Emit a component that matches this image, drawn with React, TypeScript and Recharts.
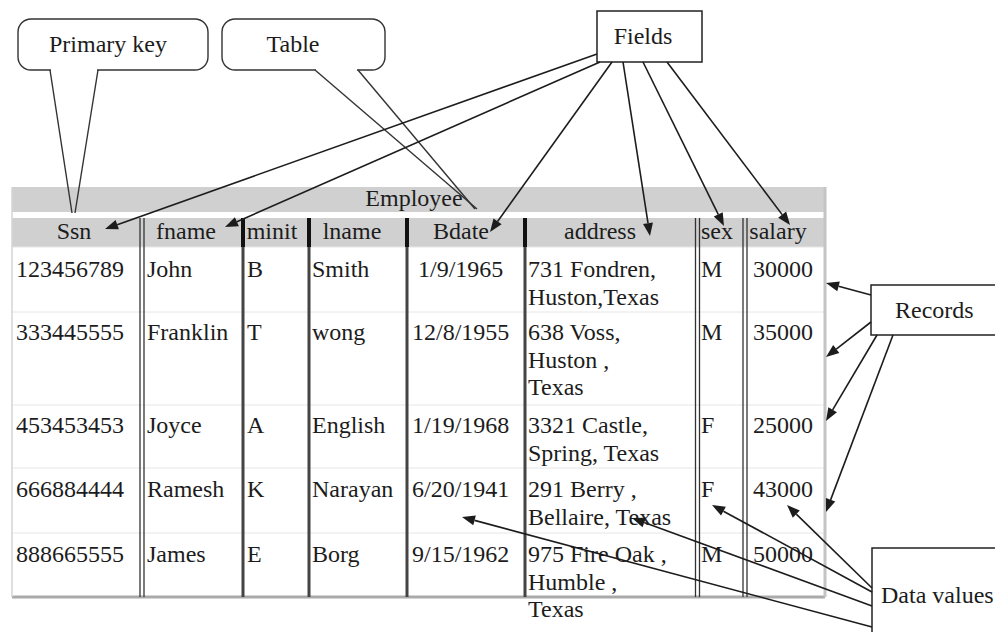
import { ComposedChart, ReferenceArea, ReferenceLine, Scatter, XAxis, YAxis } from 'recharts'

// table content
const columns = ['Ssn', 'fname', 'minit', 'lname', 'Bdate', 'address', 'sex', 'salary']
const ssn = ['123456789', '333445555', '453453453', '666884444', '888665555']
const fname = ['John', 'Franklin', 'Joyce', 'Ramesh', 'James']
const minit = ['B', 'T', 'A', 'K', 'E']
const lname = ['Smith', 'wong', 'English', 'Narayan', 'Borg']
const bdate = ['\u00a01/9/1965', '12/8/1955', '1/19/1968', '6/20/1941', '9/15/1962']
const address = [
  ['731 Fondren,', 'Huston,Texas'],
  ['638 Voss,', 'Huston ,', 'Texas'],
  ['3321 Castle,', 'Spring, Texas'],
  ['291 Berry ,', 'Bellaire, Texas'],
  ['975 Fire Oak ,', 'Humble ,', 'Texas'],
]
const sex = ['M', 'M', 'F', 'F', 'M']
const salary = ['30000', '35000', '25000', '43000', '50000']
const tableName = 'Employee'
const calloutLabels = ['Primary key', 'Table', 'Fields', 'Records', 'Data values']

// layout in diagram units (x: 0..995, y: 0..632 from the top)
const colTextX = [16, 147, 247, 312, 412, 528, 701, 753]
const headerTextX = [74, 186, 272, 352, 461, 600, 717, 778]
const rowBaseY = [277, 340, 433, 497, 562]
const lineGap = 27.5
const rowEdges = [247, 312, 405, 468, 533, 597]
const separators = [
  { x: 142, kind: 'double' },
  { x: 243, kind: 'thick' },
  { x: 309, kind: 'thick' },
  { x: 407, kind: 'thick' },
  { x: 525, kind: 'thick' },
  { x: 697.5, kind: 'double' },
  { x: 745, kind: 'double' },
]
const calloutPos = [
  { x: 108, y: 52, anchor: 'middle' },
  { x: 293, y: 52, anchor: 'middle' },
  { x: 643, y: 44, anchor: 'middle' },
  { x: 895, y: 318, anchor: 'start' },
  { x: 881, y: 603, anchor: 'start' },
]
const boxes = [
  { x1: 597, x2: 702, y1: 11, y2: 62 },
  { x1: 871, x2: 1005, y1: 285, y2: 335 },
  { x1: 872, x2: 1005, y1: 548, y2: 645 },
]
const bubbles = [
  { x1: 18, x2: 208, y1: 19, y2: 70, tail: [[50, 98], [72, 75], 213] },
  { x1: 222, x2: 385, y1: 19, y2: 70, tail: [[315, 358], [477, 475], 209] },
]
// arrows: [fromX, fromY, toX, toY]
const arrows = [
  [597, 54, 105, 229],
  [600, 62, 225, 227],
  [612, 62, 490, 232],
  [623, 62, 650, 236],
  [643, 62, 724, 226],
  [667, 62, 790, 225],
  [871, 295, 826, 283],
  [871, 322, 826, 357],
  [877, 335, 826, 421],
  [893, 335, 826, 512],
  [872, 588, 787, 505],
  [872, 592, 712, 505],
  [872, 606, 632, 518],
  [872, 627, 462, 517],
]

const font = '"Liberation Serif", "Times New Roman", serif'
const ink = '#1c1c1c'

const records = ssn.map((s, i) => [s, fname[i], minit[i], lname[i], bdate[i], address[i], sex[i], salary[i]])

const cellTexts = records.flatMap((rec, r) =>
  rec.flatMap((v, c) => {
    const lines = Array.isArray(v) ? v : [v]
    return lines.map((label, k) => ({ x: colTextX[c], y: rowBaseY[r] + k * lineGap, label, anchor: 'start' }))
  }),
)
const headerTexts = columns.map((label, c) => ({ x: headerTextX[c], y: 239, label, anchor: 'middle' }))
const titleText = [{ x: 414, y: 206, label: tableName, anchor: 'middle' }]
const calloutTexts = calloutLabels.map((label, i) => ({ ...calloutPos[i], label }))

const TextMark = (p: any) => (
  <text
    x={p.cx}
    y={p.cy}
    textAnchor={p.payload.anchor}
    fontFamily={font}
    fontSize={24}
    fill={ink}
    style={{ whiteSpace: 'pre' }}
  >
    {p.payload.label}
  </text>
)

const ArrowShape = (p: any) => {
  const { x1, y1, x2, y2 } = p
  const a = Math.atan2(y2 - y1, x2 - x1)
  const len = 13
  const half = 5
  const bx = x2 - len * Math.cos(a)
  const by = y2 - len * Math.sin(a)
  const pts = [
    [x2, y2],
    [bx + half * Math.sin(a), by - half * Math.cos(a)],
    [bx - half * Math.sin(a), by + half * Math.cos(a)],
  ]
  return (
    <g>
      <line x1={x1} y1={y1} x2={bx} y2={by} stroke={ink} strokeWidth={1.6} />
      <polygon points={pts.map((q) => q.join(',')).join(' ')} fill={ink} />
    </g>
  )
}

const BubbleShape = (p: any) => (
  <rect x={p.x} y={p.y} width={p.width} height={p.height} rx={13} fill="#fff" stroke="#333" strokeWidth={1.4} />
)

export default function App() {
  return (
    <div style={{ position: 'absolute', left: 0, top: 0, width: 995, height: 632, background: '#fff' }}>
      <ComposedChart width={995} height={632} margin={{ top: 0, right: 0, bottom: 0, left: 0 }}>
        <XAxis type="number" dataKey="x" domain={[0, 995]} hide allowDataOverflow />
        <YAxis type="number" dataKey="y" domain={[0, 632]} reversed hide allowDataOverflow />

        {/* header bands */}
        <ReferenceArea x1={12} x2={825} y1={187} y2={212} fill="#d0d0d0" fillOpacity={1} stroke="none" ifOverflow="visible" />
        <ReferenceArea x1={12} x2={825} y1={218} y2={247} fill="#d0d0d0" fillOpacity={1} stroke="none" ifOverflow="visible" />

        {/* faint row rules */}
        {rowEdges.slice(0, -1).map((y) => (
          <ReferenceLine key={`r${y}`} segment={[{ x: 12, y }, { x: 825, y }]} stroke="#e6e6e6" strokeWidth={1} ifOverflow="visible" />
        ))}
        <ReferenceLine segment={[{ x: 12, y: 597 }, { x: 825, y: 597 }]} stroke="#aaa" strokeWidth={3} ifOverflow="visible" />
        <ReferenceLine segment={[{ x: 12, y: 187 }, { x: 12, y: 597 }]} stroke="#d4d4d4" strokeWidth={1.5} ifOverflow="visible" />
        <ReferenceLine segment={[{ x: 825, y: 187 }, { x: 825, y: 597 }]} stroke="#c4c4c4" strokeWidth={3} ifOverflow="visible" />

        {/* column separators */}
        {separators.flatMap((s) =>
          s.kind === 'thick'
            ? [
                <ReferenceLine key={`t${s.x}`} segment={[{ x: s.x, y: 218 }, { x: s.x, y: 247 }]} stroke="#111" strokeWidth={4} ifOverflow="visible" />,
                <ReferenceLine key={`b${s.x}`} segment={[{ x: s.x, y: 247 }, { x: s.x, y: 597 }]} stroke="#444" strokeWidth={3} ifOverflow="visible" />,
              ]
            : [
                <ReferenceLine key={`l${s.x}`} segment={[{ x: s.x - 2, y: 218 }, { x: s.x - 2, y: 597 }]} stroke="#333" strokeWidth={1.3} ifOverflow="visible" />,
                <ReferenceLine key={`m${s.x}`} segment={[{ x: s.x + 2, y: 218 }, { x: s.x + 2, y: 597 }]} stroke="#333" strokeWidth={1.3} ifOverflow="visible" />,
              ],
        )}

        {/* callout shapes */}
        {bubbles.map((b, i) => (
          <ReferenceArea key={`bub${i}`} x1={b.x1} x2={b.x2} y1={b.y1} y2={b.y2} shape={BubbleShape} ifOverflow="visible" />
        ))}
        {boxes.map((b, i) => (
          <ReferenceArea key={`box${i}`} x1={b.x1} x2={b.x2} y1={b.y1} y2={b.y2} fill="#fff" fillOpacity={1} stroke="#222" strokeWidth={1.5} ifOverflow="visible" />
        ))}
        {bubbles.flatMap((b, i) => {
          const [base, tip, tipY] = b.tail as [number[], number[], number]
          return [
            <ReferenceLine key={`er${i}`} segment={[{ x: base[0] + 1, y: b.y2 }, { x: base[1] - 1, y: b.y2 }]} stroke="#fff" strokeWidth={3} ifOverflow="visible" />,
            <ReferenceLine key={`ta${i}`} segment={[{ x: base[0], y: b.y2 }, { x: tip[0], y: tipY }]} stroke="#333" strokeWidth={1.4} ifOverflow="visible" />,
            <ReferenceLine key={`tb${i}`} segment={[{ x: base[1], y: b.y2 }, { x: tip[1], y: tipY }]} stroke="#333" strokeWidth={1.4} ifOverflow="visible" />,
          ]
        })}

        <Scatter data={titleText} shape={TextMark} isAnimationActive={false} />
        <Scatter data={headerTexts} shape={TextMark} isAnimationActive={false} />
        <Scatter data={cellTexts} shape={TextMark} isAnimationActive={false} />
        <Scatter data={calloutTexts} shape={TextMark} isAnimationActive={false} />

        {arrows.map((a, i) => (
          <ReferenceLine
            key={`ar${i}`}
            segment={[{ x: a[0], y: a[1] }, { x: a[2], y: a[3] }]}
            shape={ArrowShape}
            ifOverflow="visible"
          />
        ))}
      </ComposedChart>
    </div>
  )
}
